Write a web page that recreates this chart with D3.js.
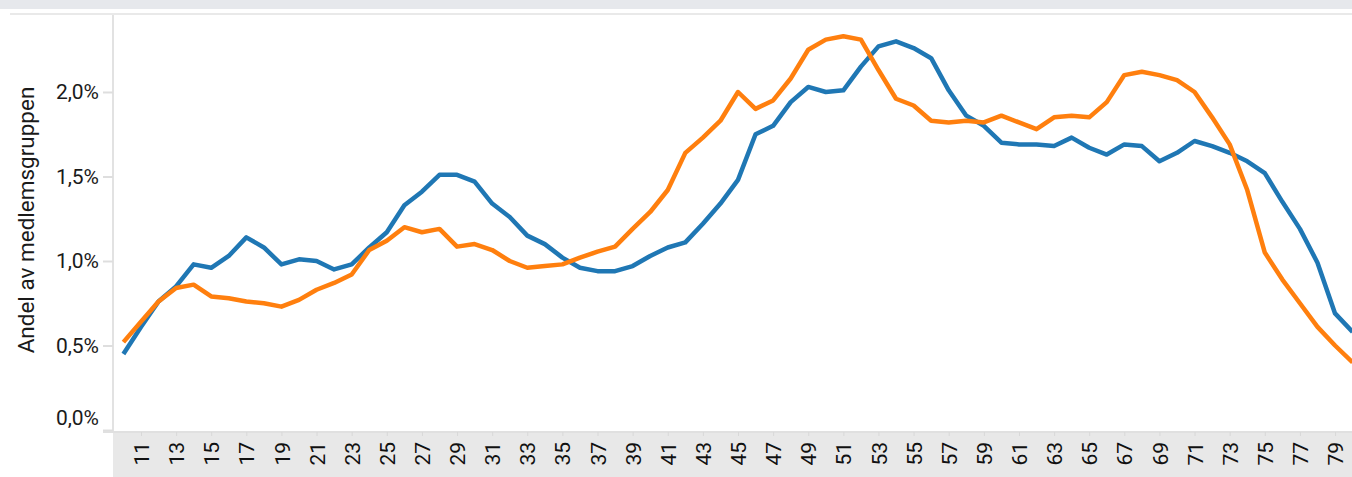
<!DOCTYPE html>
<head>
<meta charset="utf-8">
<title>Andel av medlemsgruppen</title>
<script src="https://d3js.org/d3.v7.min.js"></script>
<style>
  body { margin: 0; overflow: hidden; background: #fff; }
  text { font-family: Roboto, "Liberation Sans", sans-serif; }
</style>
</head>
<body>
  <div id="chart"></div>
</body>
<script>
    // ages on the x axis
    let ages = [10, 11, 12, 13, 14, 15, 16, 17, 18, 19, 20, 21, 22, 23, 24, 25, 26, 27, 28, 29,
                30, 31, 32, 33, 34, 35, 36, 37, 38, 39, 40, 41, 42, 43, 44, 45, 46, 47, 48, 49,
                50, 51, 52, 53, 54, 55, 56, 57, 58, 59, 60, 61, 62, 63, 64, 65, 66, 67, 68, 69,
                70, 71, 72, 73, 74, 75, 76, 77, 78, 79, 80];
    let ageLabels = [11, 13, 15, 17, 19, 21, 23, 25, 27, 29, 31, 33, 35, 37, 39, 41, 43, 45, 47,
                     49, 51, 53, 55, 57, 59, 61, 63, 65, 67, 69, 71, 73, 75, 77, 79];

    // share of the member group, in percent
    let groupBlue = [0.45, 0.61, 0.76, 0.85, 0.98, 0.96, 1.03, 1.14, 1.08, 0.98,
                     1.01, 1.00, 0.95, 0.98, 1.08, 1.17, 1.33, 1.41, 1.51, 1.51,
                     1.47, 1.34, 1.26, 1.15, 1.10, 1.02, 0.96, 0.94, 0.94, 0.97,
                     1.03, 1.08, 1.11, 1.22, 1.34, 1.48, 1.75, 1.80, 1.94, 2.03,
                     2.00, 2.01, 2.15, 2.27, 2.30, 2.26, 2.20, 2.01, 1.86, 1.80,
                     1.70, 1.69, 1.69, 1.68, 1.73, 1.67, 1.63, 1.69, 1.68, 1.59,
                     1.64, 1.71, 1.68, 1.64, 1.59, 1.52, 1.35, 1.19, 0.99, 0.69, 0.58];
    let groupOrange = [0.52, 0.64, 0.76, 0.84, 0.86, 0.79, 0.78, 0.76, 0.75, 0.73,
                       0.77, 0.83, 0.87, 0.92, 1.065, 1.12, 1.20, 1.17, 1.19, 1.085,
                       1.10, 1.065, 1.00, 0.96, 0.97, 0.98, 1.02, 1.055, 1.085, 1.19,
                       1.29, 1.42, 1.64, 1.73, 1.83, 2.00, 1.90, 1.95, 2.08, 2.25,
                       2.31, 2.33, 2.31, 2.13, 1.96, 1.92, 1.83, 1.82, 1.83, 1.82,
                       1.86, 1.82, 1.78, 1.85, 1.86, 1.85, 1.94, 2.10, 2.12, 2.10,
                       2.07, 2.00, 1.85, 1.69, 1.42, 1.05, 0.89, 0.75, 0.61, 0.50, 0.40];
    let yTicks = [0, 0.5, 1.0, 1.5, 2.0];

    let W = 1352, H = 477;
    let plotLeft = 113, plotTop = 15, plotBottom = 430, axisBottom = 432;

    let svg = d3.select("#chart")
      .append("svg")
        .attr("width", W)
        .attr("height", H);

    // cropped header band
    svg.append("rect")
      .attr("x", 0).attr("y", 0)
      .attr("width", W).attr("height", 9)
      .attr("fill", "#e6e8ec");
    svg.append("rect")
      .attr("x", 10).attr("y", 13)
      .attr("width", W).attr("height", 2)
      .attr("fill", "#e9e9e9");

    // grey band behind x labels
    svg.append("rect")
      .attr("x", plotLeft).attr("y", axisBottom)
      .attr("width", W - plotLeft).attr("height", H - axisBottom)
      .attr("fill", "#e8e8e8");

    let x = d3.scalePoint().domain(ages).range([123.4, 1352.6]);
    let y = d3.scaleLinear().domain([0, 2.4556]).range([plotBottom, plotTop]);

    // y axis
    let yAxis = svg.append("g")
      .attr("transform", "translate(" + plotLeft + ",0)")
      .call(d3.axisLeft(y)
        .tickValues(yTicks)
        .tickSize(10)
        .tickPadding(4)
        .tickFormat(function(d) { return d3.format(".1f")(d).replace(".", ",") + "%"; }));
    yAxis.select(".domain").attr("stroke", "#e2e2e2").attr("stroke-width", 2)
      .attr("d", "M0," + plotTop + "V" + axisBottom);
    yAxis.selectAll(".tick line").attr("stroke", "#dedede").attr("stroke-width", 2);
    yAxis.selectAll(".tick text")
      .attr("font-size", 21)
      .attr("fill", "#1a1a1a");
    // 0,0% label sits above the axis line
    yAxis.selectAll(".tick text").filter(function(d) { return d === 0; })
      .attr("dy", "-0.25em");

    // x axis line
    svg.append("line")
      .attr("x1", 103).attr("x2", W)
      .attr("y1", axisBottom).attr("y2", axisBottom)
      .attr("stroke", "#e0e0e0").attr("stroke-width", 2);

    // x labels, rotated
    let xAxis = svg.append("g")
      .attr("transform", "translate(0," + axisBottom + ")")
      .call(d3.axisBottom(x).tickValues(ageLabels).tickSize(4).tickPadding(8));
    xAxis.select(".domain").remove();
    xAxis.selectAll(".tick line").attr("stroke", "#d8d8d8");
    xAxis.selectAll(".tick text")
      .attr("font-size", 21)
      .attr("fill", "#111")
      .attr("transform", "rotate(-90)")
      .attr("text-anchor", "end")
      .attr("x", -10)
      .attr("y", 0)
      .attr("dy", "0.36em");

    // y title
    svg.append("text")
      .attr("transform", "translate(34,220) rotate(-90)")
      .attr("text-anchor", "middle")
      .attr("font-size", 22.5)
      .attr("fill", "#1a1a1a")
      .text("Andel av medlemsgruppen");

    // lines
    let line = d3.line()
      .x(function(d) { return x(d.age); })
      .y(function(d) { return y(d.v); });

    let series = [
      { color: "#1f77b4", values: groupBlue },
      { color: "#ff7f0e", values: groupOrange }
    ];

    series.forEach(function(s) {
      let pts = ages.map(function(a, i) { return { age: a, v: s.values[i] }; });
      svg.append("path")
        .datum(pts)
        .attr("fill", "none")
        .attr("stroke", s.color)
        .attr("stroke-width", 4.5)
        .attr("stroke-linejoin", "round")
        .attr("d", line);
    });
</script>
